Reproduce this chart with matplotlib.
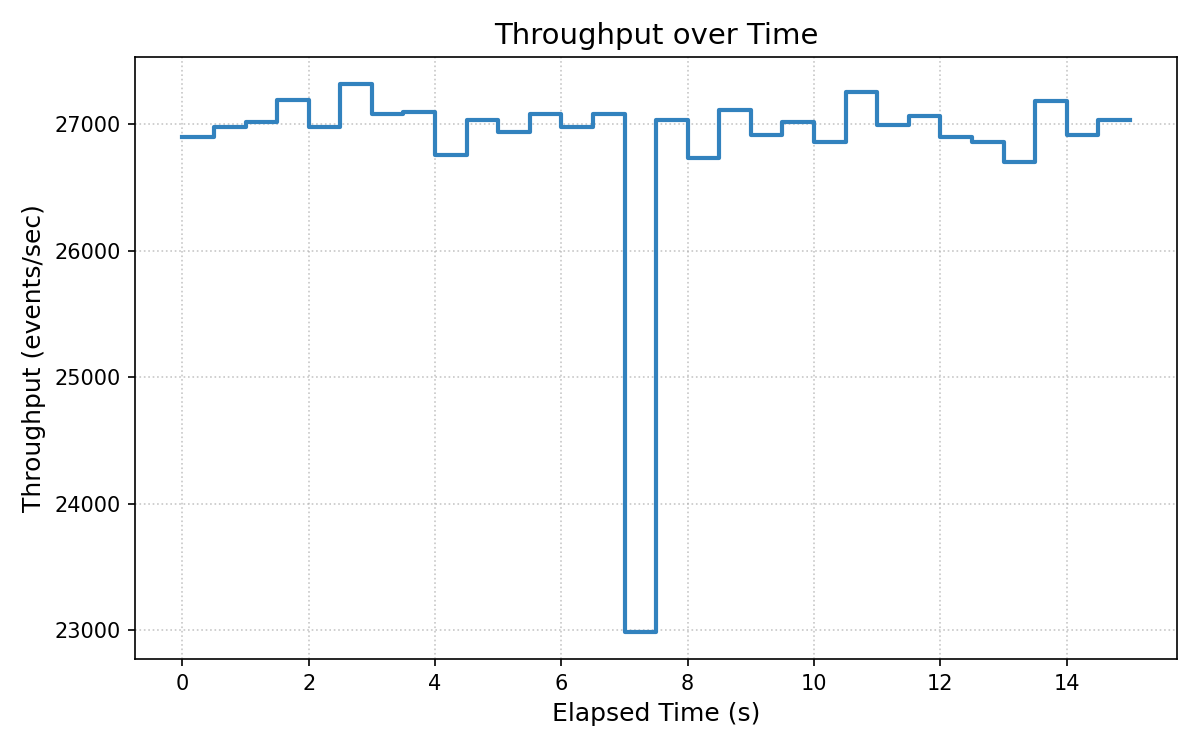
import numpy as np
import matplotlib
matplotlib.use('Agg')
import matplotlib.pyplot as plt

# elapsed time (s), sampled every 0.5 s
elapsed = np.arange(0, 15.5, 0.5)
throughput = [26900, 26980, 27020, 27195, 26980, 27315, 27080, 27100,
              26760, 27035, 26940, 27080, 26980, 27080, 22985, 27035,
              26735, 27115, 26918, 27020, 26862, 27258, 26997, 27063,
              26902, 26862, 26700, 27180, 26918, 27036, 27036]

fig, ax = plt.subplots(figsize=(8, 5), dpi=150)
ax.step(elapsed, throughput, where='post', color='#3282be', linewidth=2)

ax.set_title('Throughput over Time', fontsize=14)
ax.set_xlabel('Elapsed Time (s)', fontsize=12)
ax.set_ylabel('Throughput (events/sec)', fontsize=12)
ax.grid(True, linestyle=':', color='#b0b0b0', alpha=0.7)

fig.subplots_adjust(left=0.1125, right=0.981, top=0.924, bottom=0.121)
fig.savefig('out.png')
